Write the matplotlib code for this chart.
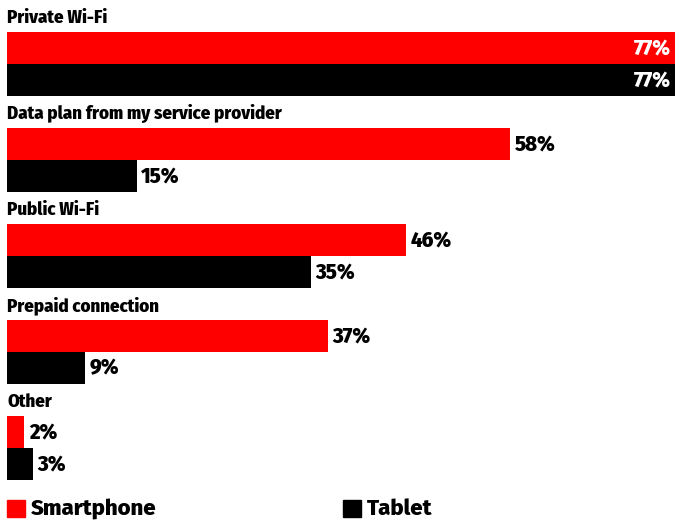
import matplotlib.pyplot as plt
from matplotlib.patches import Rectangle

categories = ["Private Wi-Fi", "Data plan from my service provider", "Public Wi-Fi",
              "Prepaid connection", "Other"]
smartphone = [77, 58, 46, 37, 2]
tablet = [77, 15, 35, 9, 3]

RED = "#ff0000"
BLACK = "#000000"

plt.rcParams["font.family"] = ["Fira Sans Condensed", "DejaVu Sans"]
plt.rcParams["font.weight"] = "heavy"

W, H = 675, 521
fig = plt.figure(figsize=(W / 100, H / 100), dpi=100)
# bar area: 3 rows (label, smartphone, tablet) of 32px per group
ax = fig.add_axes([7 / W, (H - 480) / H, 668 / W, 480 / H])
ax.set_xlim(0, max(smartphone + tablet))
ax.set_ylim(len(categories) * 3, 0)
ax.axis("off")

cat_fs = 13.5
val_fs = 16
for i, (cat, s, t) in enumerate(zip(categories, smartphone, tablet)):
    base = i * 3
    ax.text(0, base + 0.55, cat, ha="left", va="center", fontsize=cat_fs, color=BLACK)
    for row, val, col in ((1, s, RED), (2, t, BLACK)):
        ax.barh(base + row + 0.5, val, height=1.0, left=0, color=col)
        if val >= 70:
            ax.text(val - 0.5, base + row + 0.5, f"{val}%", ha="right", va="center",
                    fontsize=val_fs, color="white")
        else:
            ax.text(val + 0.5, base + row + 0.5, f"{val}%", ha="left", va="center",
                    fontsize=val_fs, color=BLACK)

# legend along the bottom
for x0, col, label in ((7, RED, "Smartphone"), (343, BLACK, "Tablet")):
    fig.patches.append(Rectangle((x0 / W, (H - 517) / H), 18 / W, 17 / H,
                                 transform=fig.transFigure, color=col))
    fig.text((x0 + 24) / W, (H - 509) / H, label, ha="left", va="center",
             fontsize=16, color=BLACK, family=["Fira Sans", "Fira Sans Condensed", "DejaVu Sans"])

fig.savefig("out.png", dpi=100)
